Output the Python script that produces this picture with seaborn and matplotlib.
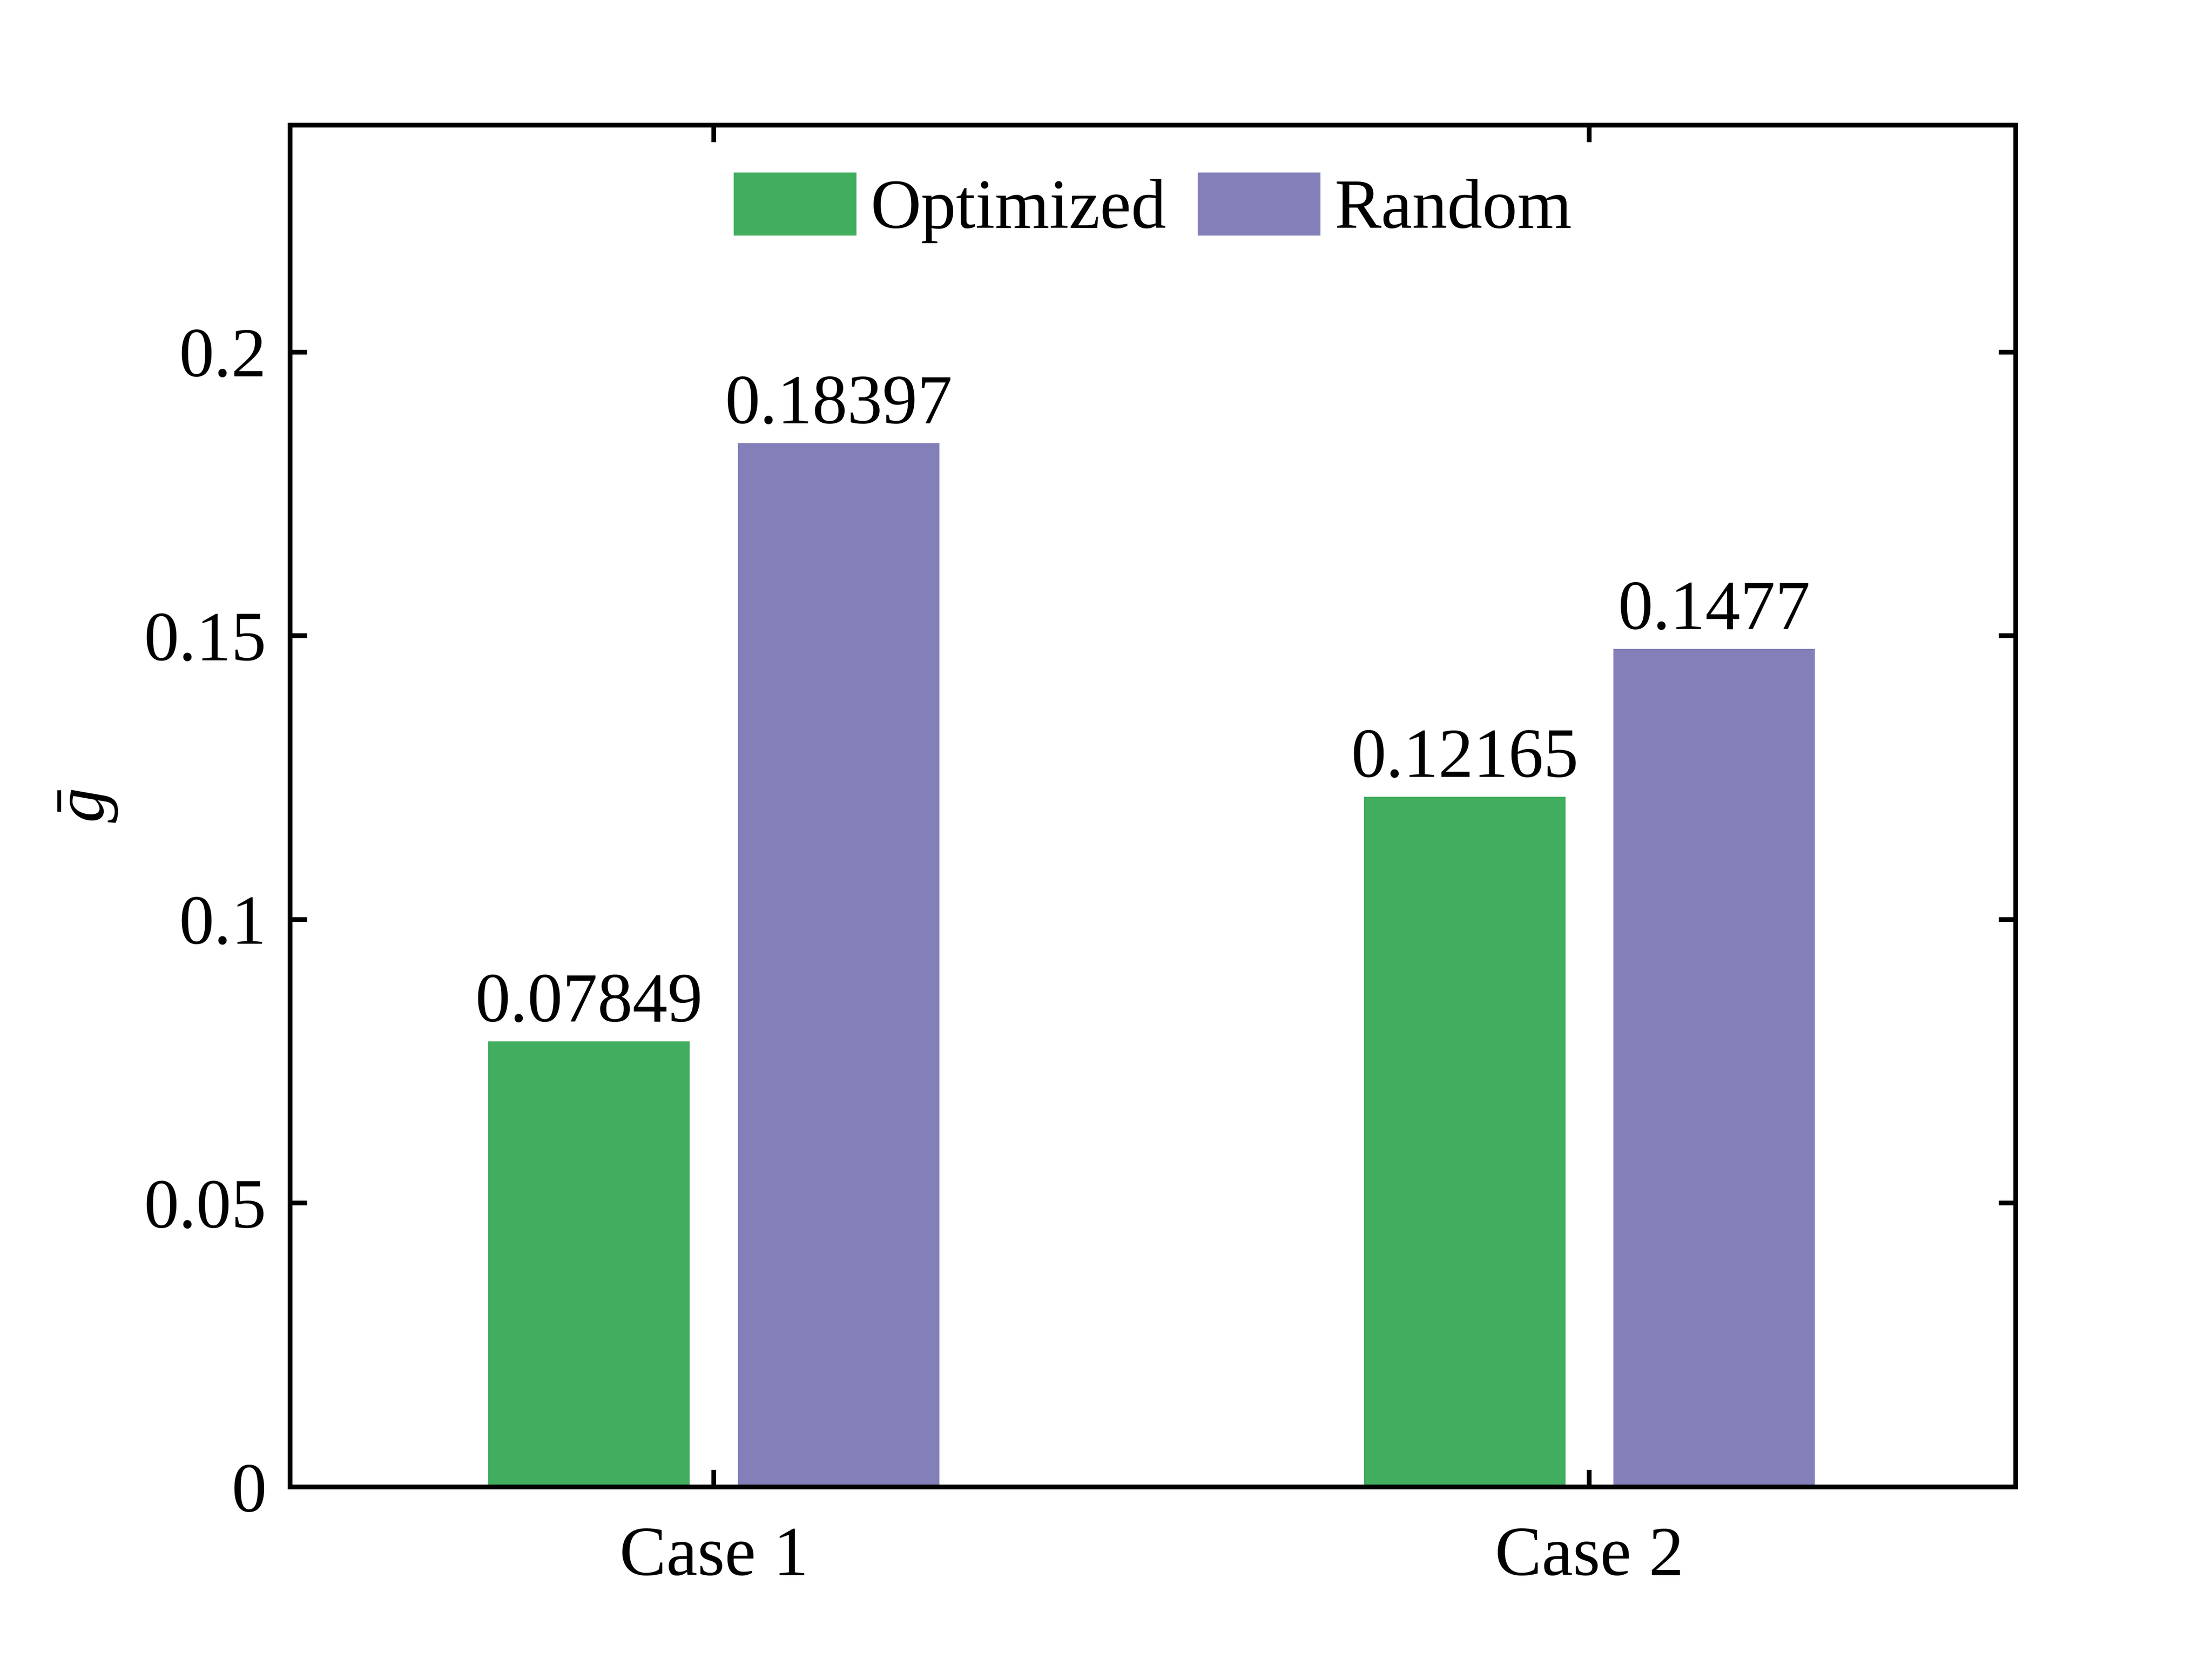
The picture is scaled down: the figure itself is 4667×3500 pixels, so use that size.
import numpy as np
import pandas as pd
import matplotlib
matplotlib.use("Agg")
import matplotlib.pyplot as plt
import seaborn as sns
from matplotlib.patches import Patch

cases = ["Case 1", "Case 2"]
methods = ["Optimized", "Random"]
optimized_vals = [0.07849, 0.12165]
random_vals = [0.18397, 0.1477]
yticks = [0, 0.05, 0.1, 0.15, 0.2]
ytick_labels = ["0", "0.05", "0.1", "0.15", "0.2"]
colors = ["#41AD5E", "#837FB9"]

df = pd.DataFrame({
    "case": cases * 2,
    "method": [methods[0]] * 2 + [methods[1]] * 2,
    "value": optimized_vals + random_vals,
})

sns.set_style("ticks")
plt.rcParams["font.family"] = ["Liberation Serif", "DejaVu Serif"]
plt.rcParams["mathtext.fontset"] = "custom"
plt.rcParams["mathtext.rm"] = "Liberation Serif"
plt.rcParams["mathtext.it"] = "Liberation Serif:italic"
plt.rcParams["text.color"] = "black"
plt.rcParams["axes.labelcolor"] = "black"
plt.rcParams["xtick.color"] = "black"
plt.rcParams["ytick.color"] = "black"
plt.rcParams["axes.edgecolor"] = "black"

FS = 35.5
LW = 2.4

fig = plt.figure(figsize=(4667 / 300, 3500 / 300), dpi=300)
ax = fig.add_axes([0.1311, 0.1037, 0.9113 - 0.1311, 0.9246 - 0.1037])

sns.barplot(data=df, x="case", y="value", hue="method", palette=colors,
            width=0.57, gap=0.193, ax=ax, legend=False, saturation=1,
            linewidth=0, errorbar=None)

for cont in ax.containers:
    ax.bar_label(cont, fmt="%g", padding=2.4, fontsize=FS, color="black")

ax.set_xlim(-0.484, 1.487)
ax.set_ylim(0, 0.24)
ax.set_yticks(yticks)
ax.set_yticklabels(ytick_labels)
ax.set_xlabel("")
ax.set_ylabel(r"$\bar{g}$", fontsize=FS, labelpad=12, color="black")

ax.tick_params(axis="both", which="major", direction="in", top=True, right=True,
               length=8.6, width=LW, labelsize=FS, color="black",
               labelcolor="black")
ax.tick_params(axis="y", pad=12)
ax.tick_params(axis="x", pad=20)
for sp in ax.spines.values():
    sp.set_linewidth(LW)
    sp.set_color("black")
    sp.set_visible(True)

handles = [Patch(facecolor=c, edgecolor="none") for c in colors]
leg = ax.legend(handles, methods, loc="upper center", ncol=2, frameon=False,
                fontsize=FS, handlelength=1.75, handleheight=1.0,
                handletextpad=0.2, columnspacing=0.45, borderaxespad=0.28)
for t in leg.get_texts():
    t.set_color("black")

fig.savefig("out.png", dpi=300)
